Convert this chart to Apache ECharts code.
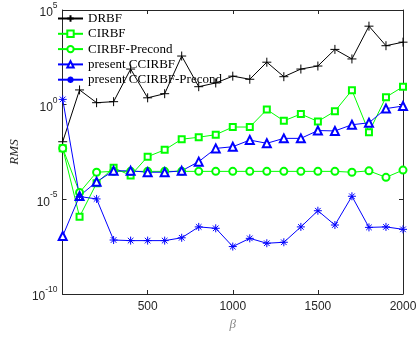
<!DOCTYPE html>
<html>
<head>
<meta charset="utf-8">
<script src="https://cdn.jsdelivr.net/npm/echarts@6/dist/echarts.min.js"></script>
<style>
  html, body { margin: 0; padding: 0; background: #fff; }
  #chart { width: 420px; height: 338px; }
</style>
</head>
<body>
<div id="chart"></div>
<script>
// beta values (x)
const beta = [1, 100, 200, 300, 400, 500, 600, 700, 800, 900, 1000,
  1100, 1200, 1300, 1400, 1500, 1600, 1700, 1800, 1900, 2000];

// RMS values
const drbf = [1.1e-2, 6.0, 1.27, 1.44, 76, 2.3, 3.8, 370, 8.9, 14, 32,
  22, 175, 30, 76, 110, 830, 260, 1.4e4, 1.3e3, 2.0e3];
const cirbf = [5.0e-3, 1.2e-6, 7.1e-5, 4.7e-4, 1.8e-4, 1.8e-3, 4.1e-3, 1.5e-2, 1.9e-2, 2.6e-2, 6.6e-2,
  6.6e-2, 0.55, 0.14, 0.32, 0.13, 0.45, 5.8, 3.5e-2, 2.5, 8.9];
const cirbfPre = [5.0e-3, 2.3e-5, 2.7e-4, 3.0e-4, 3.0e-4, 3.0e-4, 3.0e-4, 3.0e-4, 3.0e-4, 3.0e-4, 3.0e-4,
  3.0e-4, 3.0e-4, 3.0e-4, 3.0e-4, 3.0e-4, 3.0e-4, 2.7e-4, 3.2e-4, 1.45e-4, 3.5e-4];
const ccirbf = [1.15e-7, 1.5e-5, 8.5e-5, 3.2e-4, 3.2e-4, 2.7e-4, 2.7e-4, 3.2e-4, 9.8e-4, 4.9e-3, 6.0e-3,
  1.35e-2, 9.1e-3, 1.66e-2, 1.66e-2, 4.3e-2, 4.1e-2, 8.7e-2, 0.11, 0.62, 0.85];
const ccirbfPre = [1.9, 1.4e-5, 1.05e-5, 7.1e-8, 6.6e-8, 6.6e-8, 6.6e-8, 9.3e-8, 3.5e-7, 2.95e-7, 3.2e-8,
  8.7e-8, 4.8e-8, 5.4e-8, 3.5e-7, 2.5e-6, 4.4e-7, 1.45e-5, 3.3e-7, 3.5e-7, 2.6e-7];

const xTicks = [500, 1000, 1500, 2000];

const names = ['DRBF', 'CIRBF', 'CIRBF-Precond', 'present CCIRBF', 'present CCIRBF-Precond'];

const PLUS = 'path://M5,0L5,10M0,5L10,5';
const STAR = 'path://M5,0L5,10M0,5L10,5M1.5,1.5L8.5,8.5M1.5,8.5L8.5,1.5';

const axisColor = '#262626';

function mk(name, vals, color, symbol, size) {
  return {
    name: name,
    type: 'line',
    xAxisIndex: 0,
    yAxisIndex: 0,
    data: beta.map((b, i) => [b, vals[i]]),
    symbol: symbol,
    symbolSize: size,
    showAllSymbol: true,
    color: color,
    lineStyle: { color: color, width: 1 },
    itemStyle: { color: color, borderColor: color, borderWidth: 1 },
    emphasis: { disabled: true },
    animation: false
  };
}

const chart = echarts.init(document.getElementById('chart'), null, { renderer: 'canvas' });

const option = {
  backgroundColor: '#fff',
  animation: false,
  grid: { left: 58, right: 17, top: 10, bottom: 44, containLabel: false },
  legend: {
    orient: 'vertical',
    left: 57,
    top: 12,
    padding: 0,
    itemWidth: 25,
    itemHeight: 8,
    itemGap: 2.3,
    textStyle: { fontFamily: 'Liberation Serif', fontSize: 13, color: '#000', lineHeight: 13 },
    data: names
  },
  xAxis: [{
    type: 'value',
    min: 0, max: 2000, interval: 500,
    name: 'β',
    nameLocation: 'middle',
    nameGap: 21,
    nameTextStyle: { fontFamily: 'Liberation Serif', fontStyle: 'italic', fontSize: 13, color: '#888' },
    axisLine: { show: true, lineStyle: { color: axisColor, width: 1 } },
    axisTick: { show: true, inside: true, length: 4, lineStyle: { color: axisColor } },
    axisLabel: {
      margin: 7,
      fontFamily: 'Liberation Sans', fontSize: 12, color: axisColor,
      formatter: v => (xTicks.indexOf(v) >= 0 ? String(v) : '')
    },
    splitLine: { show: false }
  }, {
    type: 'value',
    position: 'top',
    min: 0, max: 2000, interval: 500,
    axisLine: { show: true, onZero: false, lineStyle: { color: axisColor, width: 1 } },
    axisTick: { show: true, inside: true, length: 4, lineStyle: { color: axisColor } },
    axisLabel: { show: false },
    splitLine: { show: false }
  }],
  yAxis: [{
    type: 'log',
    logBase: 10,
    min: 1e-10, max: 1e5, interval: 5,
    name: 'RMS',
    nameLocation: 'middle',
    nameGap: 37,
    nameTextStyle: { fontFamily: 'Liberation Serif', fontStyle: 'italic', fontSize: 13, color: axisColor },
    axisLine: { show: true, lineStyle: { color: axisColor, width: 1 } },
    axisTick: { show: true, inside: true, length: 4, lineStyle: { color: axisColor } },
    axisLabel: {
      margin: 5,
      fontFamily: 'Liberation Sans', color: axisColor,
      formatter: v => '{b|10}{s|' + Math.round(Math.log10(v)) + '}',
      rich: {
        b: { fontFamily: 'Liberation Sans', fontSize: 12, color: axisColor, lineHeight: 18, verticalAlign: 'bottom' },
        s: { fontFamily: 'Liberation Sans', fontSize: 8.5, color: axisColor, lineHeight: 10, verticalAlign: 'top' }
      }
    },
    splitLine: { show: false }
  }, {
    type: 'log',
    logBase: 10,
    position: 'right',
    min: 1e-10, max: 1e5, interval: 5,
    axisLine: { show: true, onZero: false, lineStyle: { color: axisColor, width: 1 } },
    axisTick: { show: true, inside: true, length: 4, lineStyle: { color: axisColor } },
    axisLabel: { show: false },
    splitLine: { show: false }
  }],
  series: [
    mk(names[0], drbf, '#000000', PLUS, 9),
    mk(names[1], cirbf, '#00ff00', 'emptyRect', 6),
    mk(names[2], cirbfPre, '#00ff00', 'emptyCircle', 7),
    mk(names[3], ccirbf, '#0000ff', 'emptyTriangle', 8),
    mk(names[4], ccirbfPre, '#0000ff', STAR, 8)
  ]
};

chart.setOption(option);
</script>
</body>
</html>
